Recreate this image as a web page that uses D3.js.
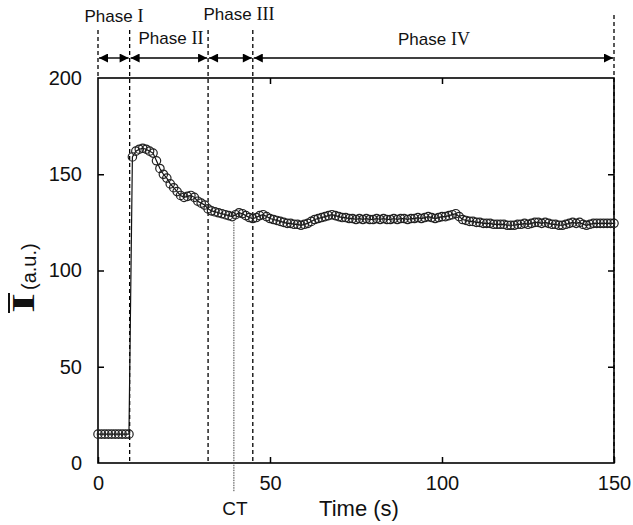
<!DOCTYPE html>
<html><head><meta charset="utf-8">
<script src="https://cdn.jsdelivr.net/npm/d3@7"></script>
<style>body{margin:0;background:#fff}svg{display:block}</style>
</head><body>
<script>
// ---- data ----
const intensity = [
 15,15,15,15,15,15,15,15,15,15,
 159,162,163,163.5,163,162,161,157,153,150,
 148,145,143,141,139,138,138.5,139,138,136,
 135,134,132,131,130.5,130,129.5,129,128.5,128,
 129,130,129.5,128.5,127.5,127,127.5,128.5,129,128,
 127,126.5,126,125.5,125,124.5,124.5,124,124,123.5,
 124,124.5,125.5,126.5,127,127.5,128,128.5,129,128.5,
 128,127.5,127.5,127,127,126.5,127,126.5,127,126.5,
 126.5,127,126.5,127,126.5,126.5,127,126.5,127,127,
 126.5,127,127,127.5,127,127.5,128,127.5,127,127.5,
 128,128,128.5,129,129.5,128,126.5,126,125.5,125.5,
 125,125,124.5,124.5,124.5,124,124,124,124,123.5,
 123.5,123.5,124,124,124.5,124,124.5,125,125,124.5,
 125,124.5,124,124,123.5,123.5,124,124.5,125,124.5,
 125,124,123.5,124,124.5,124.5,124.5,124.5,124.5,124.5,
 124.5];
const timeStep = 1; // s between samples
const times = intensity.map((_, i) => i * timeStep);
const xTicks = [0, 50, 100, 150];
const yTicks = [0, 50, 100, 150, 200];
const phaseBounds = [0, 9.2, 32, 45, 150];
const phaseNames = ["I", "II", "III", "IV"];
const ctTime = 39.5;

// ---- drawing ----
const W = 633, H = 525;
const svg = d3.select("body").append("svg").attr("width", W).attr("height", H);
const x = d3.scaleLinear().domain([0, 150]).range([98, 614]);
const y = d3.scaleLinear().domain([0, 200]).range([463, 78]);
const sans = "'Liberation Sans', Arial, Helvetica, sans-serif";
const serif = "'Liberation Serif', 'Times New Roman', serif";

const defs = svg.append("defs");
["s","e"].forEach(k => {
  defs.append("marker").attr("id", "ah" + k)
    .attr("viewBox", "0 0 10 10").attr("refX", k === "e" ? 10 : 0).attr("refY", 5)
    .attr("markerWidth", 10).attr("markerHeight", 9).attr("markerUnits", "userSpaceOnUse")
    .attr("orient", "auto")
    .append("path").attr("d", k === "e" ? "M0,0L10,5L0,10Z" : "M10,0L0,5L10,10Z").attr("fill", "#000");
});

// phase dashed lines
const dashTop = [30, 30, 30, 30, 15];
phaseBounds.forEach((b, i) => {
  svg.append("line").attr("x1", x(b)).attr("x2", x(b))
    .attr("y1", dashTop[i]).attr("y2", i === 0 ? y(200) : y(0))
    .attr("stroke", "#000").attr("stroke-width", 1.3).attr("stroke-dasharray", "4,3");
});

// arrows
const arrowY = 58;
for (let i = 0; i < 4; i++) {
  svg.append("line").attr("x1", x(phaseBounds[i]) + 1).attr("x2", x(phaseBounds[i + 1]) - 1)
    .attr("y1", arrowY).attr("y2", arrowY).attr("stroke", "#000").attr("stroke-width", 1.4)
    .attr("marker-start", "url(#ahs)").attr("marker-end", "url(#ahe)");
}

// phase labels
const phaseLabelPos = [[114, 22], [171, 44], [239, 20], [434, 45]];
phaseNames.forEach((n, i) => {
  const t = svg.append("text").attr("x", phaseLabelPos[i][0]).attr("y", phaseLabelPos[i][1])
    .attr("text-anchor", "middle").attr("fill", "#111");
  t.append("tspan").style("font-family", sans).style("font-size", "17px").text("Phase ");
  t.append("tspan").style("font-family", serif).style("font-size", "18px").text(n);
});

// frame
svg.append("rect").attr("x", x(0)).attr("y", y(200)).attr("width", x(150) - x(0)).attr("height", y(0) - y(200))
  .attr("fill", "none").attr("stroke", "#000").attr("stroke-width", 1.6);

// axes with inward ticks
const tk = 6;
svg.append("g").attr("transform", `translate(0,${y(0)})`)
  .call(d3.axisBottom(x).tickValues(xTicks).tickSizeInner(-tk).tickSizeOuter(0).tickPadding(13))
  .call(g => g.select(".domain").remove())
  .call(g => g.selectAll("line").attr("stroke-width", 1.5))
  .call(g => g.selectAll("text").style("font-family", sans).style("font-size", "20px").attr("fill", "#111"));
svg.append("g").attr("transform", `translate(0,${y(200)})`)
  .call(d3.axisTop(x).tickValues(xTicks.slice(1, -1)).tickSizeInner(-tk).tickSizeOuter(0).tickFormat(""))
  .call(g => g.select(".domain").remove())
  .call(g => g.selectAll("line").attr("stroke-width", 1.5));
svg.append("g").attr("transform", `translate(${x(0)},0)`)
  .call(d3.axisLeft(y).tickValues(yTicks).tickSizeInner(-tk).tickSizeOuter(0).tickPadding(16))
  .call(g => g.select(".domain").remove())
  .call(g => g.selectAll("line").attr("stroke-width", 1.5).filter(d => d === 0 || d === 200).remove())
  .call(g => g.selectAll("text").style("font-family", sans).style("font-size", "20px").attr("fill", "#111"));
svg.append("g").attr("transform", `translate(${x(150)},0)`)
  .call(d3.axisRight(y).tickValues(yTicks.slice(1, -1)).tickSizeInner(-tk).tickSizeOuter(0).tickFormat(""))
  .call(g => g.select(".domain").remove())
  .call(g => g.selectAll("line").attr("stroke-width", 1.5));

// CT line
const ctIdx = Math.round(ctTime / timeStep);
svg.append("line").attr("x1", x(ctTime)).attr("x2", x(ctTime))
  .attr("y1", y(intensity[ctIdx])).attr("y2", 492)
  .attr("stroke", "#444").attr("stroke-width", 1).attr("stroke-dasharray", "1.5,1");
svg.append("text").attr("x", x(ctTime) + 1).attr("y", 515).attr("text-anchor", "middle")
  .style("font-family", sans).style("font-size", "19px").attr("fill", "#111").text("CT");

// data line + markers
const pts = times.map((t, i) => [t, intensity[i]]);
svg.append("path").datum(pts)
  .attr("d", d3.line().x(d => x(d[0])).y(d => y(d[1])))
  .attr("fill", "none").attr("stroke", "#111").attr("stroke-width", 1.2);
svg.append("g").selectAll("circle").data(pts).join("circle")
  .attr("cx", d => x(d[0])).attr("cy", d => y(d[1])).attr("r", 4.2)
  .attr("fill", "none").attr("stroke", "#222").attr("stroke-width", 1.2);

// axis titles
svg.append("text").attr("x", 359).attr("y", 516).attr("text-anchor", "middle")
  .style("font-family", sans).style("font-size", "22px").attr("fill", "#111").text("Time (s)");
const yl = svg.append("g").attr("transform", "translate(34,313) rotate(-90)");
yl.append("text").attr("x", 0).attr("y", 0)
  .style("font-family", serif).style("font-weight", "bold").style("font-size", "32px")
  .attr("textLength", 20).attr("lengthAdjust", "spacingAndGlyphs").attr("fill", "#111").text("I");
yl.append("line").attr("x1", 0).attr("x2", 20).attr("y1", -25).attr("y2", -25)
  .attr("stroke", "#111").attr("stroke-width", 2);
yl.append("text").attr("x", 23).attr("y", 2)
  .style("font-family", sans).style("font-size", "20px").attr("fill", "#111").text("(a.u.)");
</script>
</body></html>
